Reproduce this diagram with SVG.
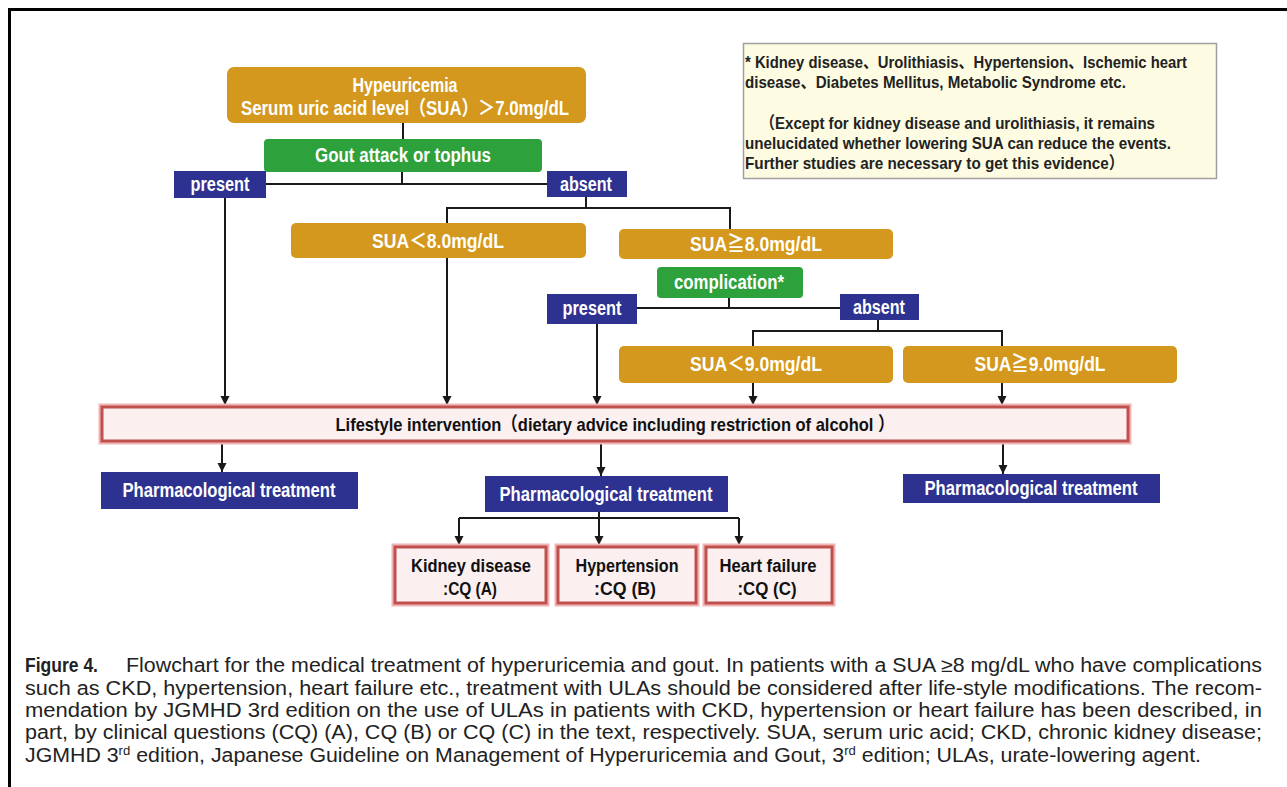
<svg xmlns="http://www.w3.org/2000/svg" width="1287" height="787" viewBox="0 0 1287 787">
<defs>
<marker id="arr" markerUnits="userSpaceOnUse" markerWidth="10" markerHeight="10" refX="9" refY="5" orient="auto">
<path d="M0,0.5 L9,5 L0,9.5 Z" fill="#1a1a1a"/>
</marker>
<style>
.gold{fill:#D3981D}
.green{fill:#2DA13C}
.navy{fill:#2D3290}
.glow{fill:none;stroke:#F0B4B4;stroke-width:7}
.red{fill:#FBEFEF;stroke:#C0504D;stroke-width:3}
.wt{font-family:"Liberation Sans","Noto Sans CJK JP",sans-serif;fill:#fff;font-size:20px;font-weight:bold;text-anchor:middle}
.bt{font-family:"Liberation Sans","Noto Sans CJK JP",sans-serif;fill:#111;font-size:19px;font-weight:bold;text-anchor:middle}
.nt{font-family:"Liberation Sans","Noto Sans CJK JP",sans-serif;fill:#222;font-size:17px;font-weight:bold}
.cap{font-family:"Liberation Sans",sans-serif;fill:#222;font-size:19.5px}
.ln{fill:none;stroke:#1a1a1a;stroke-width:2}
</style>
</defs>
<rect width="1287" height="787" fill="#fff"/>
<path d="M9.5,787 V9.5 H1287" fill="none" stroke="#000" stroke-width="3"/>

<g id="connectors" class="ln">
<line x1="403" y1="123" x2="403" y2="139"/>
<line x1="402" y1="172" x2="402" y2="184"/>
<line x1="266" y1="184" x2="547" y2="184"/>
<line x1="225" y1="198" x2="225" y2="405" marker-end="url(#arr)"/>
<polyline points="586,197 586,208"/>
<polyline points="447,223 447,208 730,208 730,229"/>
<line x1="447" y1="258" x2="447" y2="405" marker-end="url(#arr)"/>
<line x1="729" y1="298" x2="729" y2="308"/>
<line x1="637" y1="308" x2="840" y2="308"/>
<line x1="597" y1="324" x2="597" y2="405" marker-end="url(#arr)"/>
<line x1="878" y1="319" x2="878" y2="331"/>
<polyline points="753,346 753,331 1002,331 1002,346"/>
<line x1="753" y1="383" x2="753" y2="405" marker-end="url(#arr)"/>
<line x1="1002" y1="383" x2="1002" y2="405" marker-end="url(#arr)"/>
<line x1="222" y1="443" x2="222" y2="472" marker-end="url(#arr)"/>
<line x1="601" y1="443" x2="601" y2="476" marker-end="url(#arr)"/>
<line x1="1003" y1="443" x2="1003" y2="474" marker-end="url(#arr)"/>
<line x1="599" y1="512" x2="599" y2="518"/>
<line x1="459" y1="518" x2="739" y2="518"/>
<line x1="459" y1="518" x2="459" y2="545" marker-end="url(#arr)"/>
<line x1="599" y1="518" x2="599" y2="545" marker-end="url(#arr)"/>
<line x1="739" y1="518" x2="739" y2="545" marker-end="url(#arr)"/>
</g>

<g id="hyperuricemia">
<rect class="gold" x="227" y="67" width="359" height="56" rx="7"/>
<text class="wt" x="405" y="92" font-size="19" textLength="105" lengthAdjust="spacingAndGlyphs">Hypeuricemia</text>
<text class="wt" x="405" y="115" font-size="19" textLength="328" lengthAdjust="spacingAndGlyphs">Serum uric acid level（SUA）＞7.0mg/dL</text>
</g>
<g id="gout">
<rect class="green" x="264" y="139" width="278" height="33" rx="4"/>
<text class="wt" x="403" y="162" textLength="176" lengthAdjust="spacingAndGlyphs">Gout attack or tophus</text>
</g>
<g id="present1">
<rect class="navy" x="174" y="171" width="92" height="27"/>
<text class="wt" x="220" y="191" textLength="59" lengthAdjust="spacingAndGlyphs">present</text>
</g>
<g id="absent1">
<rect class="navy" x="547" y="171" width="80" height="26"/>
<text class="wt" x="586" y="191" textLength="52" lengthAdjust="spacingAndGlyphs">absent</text>
</g>
<g id="sua-lt8">
<rect class="gold" x="291" y="223" width="295" height="35" rx="5"/>
<text class="wt" x="438" y="248" textLength="132" lengthAdjust="spacingAndGlyphs">SUA＜8.0mg/dL</text>
</g>
<g id="sua-ge8">
<rect class="gold" x="619" y="229" width="274" height="30" rx="5"/>
<text class="wt" x="756" y="251" textLength="132" lengthAdjust="spacingAndGlyphs">SUA≧8.0mg/dL</text>
</g>
<g id="complication">
<rect class="green" x="657" y="267" width="146" height="31" rx="4"/>
<text class="wt" x="729" y="289" textLength="110" lengthAdjust="spacingAndGlyphs">complication*</text>
</g>
<g id="present2">
<rect class="navy" x="547" y="294" width="90" height="30"/>
<text class="wt" x="592" y="315" textLength="59" lengthAdjust="spacingAndGlyphs">present</text>
</g>
<g id="absent2">
<rect class="navy" x="840" y="294" width="79" height="26"/>
<text class="wt" x="879" y="314" textLength="52" lengthAdjust="spacingAndGlyphs">absent</text>
</g>
<g id="sua-lt9">
<rect class="gold" x="619" y="346" width="274" height="37" rx="5"/>
<text class="wt" x="756" y="371" textLength="132" lengthAdjust="spacingAndGlyphs">SUA＜9.0mg/dL</text>
</g>
<g id="sua-ge9">
<rect class="gold" x="903" y="346" width="274" height="37" rx="5"/>
<text class="wt" x="1040" y="371" textLength="131" lengthAdjust="spacingAndGlyphs">SUA≧9.0mg/dL</text>
</g>
<g id="lifestyle">
<rect class="glow" x="102" y="407" width="1026" height="34"/>
<rect class="red" x="102" y="407" width="1026" height="34"/>
<text class="bt" x="615" y="431" textLength="559" lengthAdjust="spacingAndGlyphs">Lifestyle intervention（dietary advice including restriction of alcohol ）</text>
</g>
<g id="pharm-left">
<rect class="navy" x="101" y="472" width="257" height="37"/>
<text class="wt" x="229" y="497" textLength="213" lengthAdjust="spacingAndGlyphs">Pharmacological treatment</text>
</g>
<g id="pharm-mid">
<rect class="navy" x="485" y="476" width="243" height="36"/>
<text class="wt" x="606" y="501" textLength="213" lengthAdjust="spacingAndGlyphs">Pharmacological treatment</text>
</g>
<g id="pharm-right">
<rect class="navy" x="903" y="474" width="257" height="29"/>
<text class="wt" x="1031" y="495" textLength="213" lengthAdjust="spacingAndGlyphs">Pharmacological treatment</text>
</g>
<g id="cq-a">
<rect class="glow" x="395" y="547" width="151" height="56"/>
<rect class="red" x="395" y="547" width="151" height="56"/>
<text class="bt" x="471" y="572" textLength="120" lengthAdjust="spacingAndGlyphs">Kidney disease</text>
<text class="bt" x="470" y="595" textLength="54" lengthAdjust="spacingAndGlyphs">:CQ (A)</text>
</g>
<g id="cq-b">
<rect class="glow" x="558" y="547" width="138" height="56"/>
<rect class="red" x="558" y="547" width="138" height="56"/>
<text class="bt" x="627" y="572" textLength="103" lengthAdjust="spacingAndGlyphs">Hypertension</text>
<text class="bt" x="625" y="595" textLength="62" lengthAdjust="spacingAndGlyphs">:CQ (B)</text>
</g>
<g id="cq-c">
<rect class="glow" x="706" y="547" width="126" height="56"/>
<rect class="red" x="706" y="547" width="126" height="56"/>
<text class="bt" x="768" y="572" textLength="97" lengthAdjust="spacingAndGlyphs">Heart failure</text>
<text class="bt" x="767" y="595" textLength="59" lengthAdjust="spacingAndGlyphs">:CQ (C)</text>
</g>

<g id="note">
<rect x="743.5" y="43.5" width="473" height="135" fill="#FDFCE3" stroke="#A0A0A0" stroke-width="1.5"/>
<text class="nt" x="745" y="68" textLength="442" lengthAdjust="spacingAndGlyphs">* Kidney disease、Urolithiasis、Hypertension、Ischemic heart</text>
<text class="nt" x="745" y="88" textLength="381" lengthAdjust="spacingAndGlyphs">disease、Diabetes Mellitus, Metabolic Syndrome etc.</text>
<text class="nt" x="760" y="129" textLength="395" lengthAdjust="spacingAndGlyphs">（Except for kidney disease and urolithiasis, it remains</text>
<text class="nt" x="745" y="149" textLength="426" lengthAdjust="spacingAndGlyphs">unelucidated whether lowering SUA can reduce the events.</text>
<text class="nt" x="745" y="169" textLength="379" lengthAdjust="spacingAndGlyphs">Further studies are necessary to get this evidence）</text>
</g>

<g id="caption">
<text class="cap" x="25" y="672" font-weight="bold" textLength="73" lengthAdjust="spacingAndGlyphs">Figure 4.</text>
<text class="cap" x="126" y="672" textLength="1136" lengthAdjust="spacingAndGlyphs">Flowchart for the medical treatment of hyperuricemia and gout. In patients with a SUA ≥8 mg/dL who have complications</text>
<text class="cap" x="25" y="695" textLength="1237" lengthAdjust="spacingAndGlyphs">such as CKD, hypertension, heart failure etc., treatment with ULAs should be considered after life-style modifications. The recom-</text>
<text class="cap" x="25" y="717" textLength="1237" lengthAdjust="spacingAndGlyphs">mendation by JGMHD 3rd edition on the use of ULAs in patients with CKD, hypertension or heart failure has been described, in</text>
<text class="cap" x="25" y="739" textLength="1237" lengthAdjust="spacingAndGlyphs">part, by clinical questions (CQ) (A), CQ (B) or CQ (C) in the text, respectively. SUA, serum uric acid; CKD, chronic kidney disease;</text>
<text class="cap" x="25" y="762" textLength="1176" lengthAdjust="spacingAndGlyphs">JGMHD 3<tspan font-size="12" dy="-7">rd</tspan><tspan dy="7"> edition, Japanese Guideline on Management of Hyperuricemia and Gout, 3</tspan><tspan font-size="12" dy="-7">rd</tspan><tspan dy="7"> edition; ULAs, urate-lowering agent.</tspan></text>
</g>
</svg>
